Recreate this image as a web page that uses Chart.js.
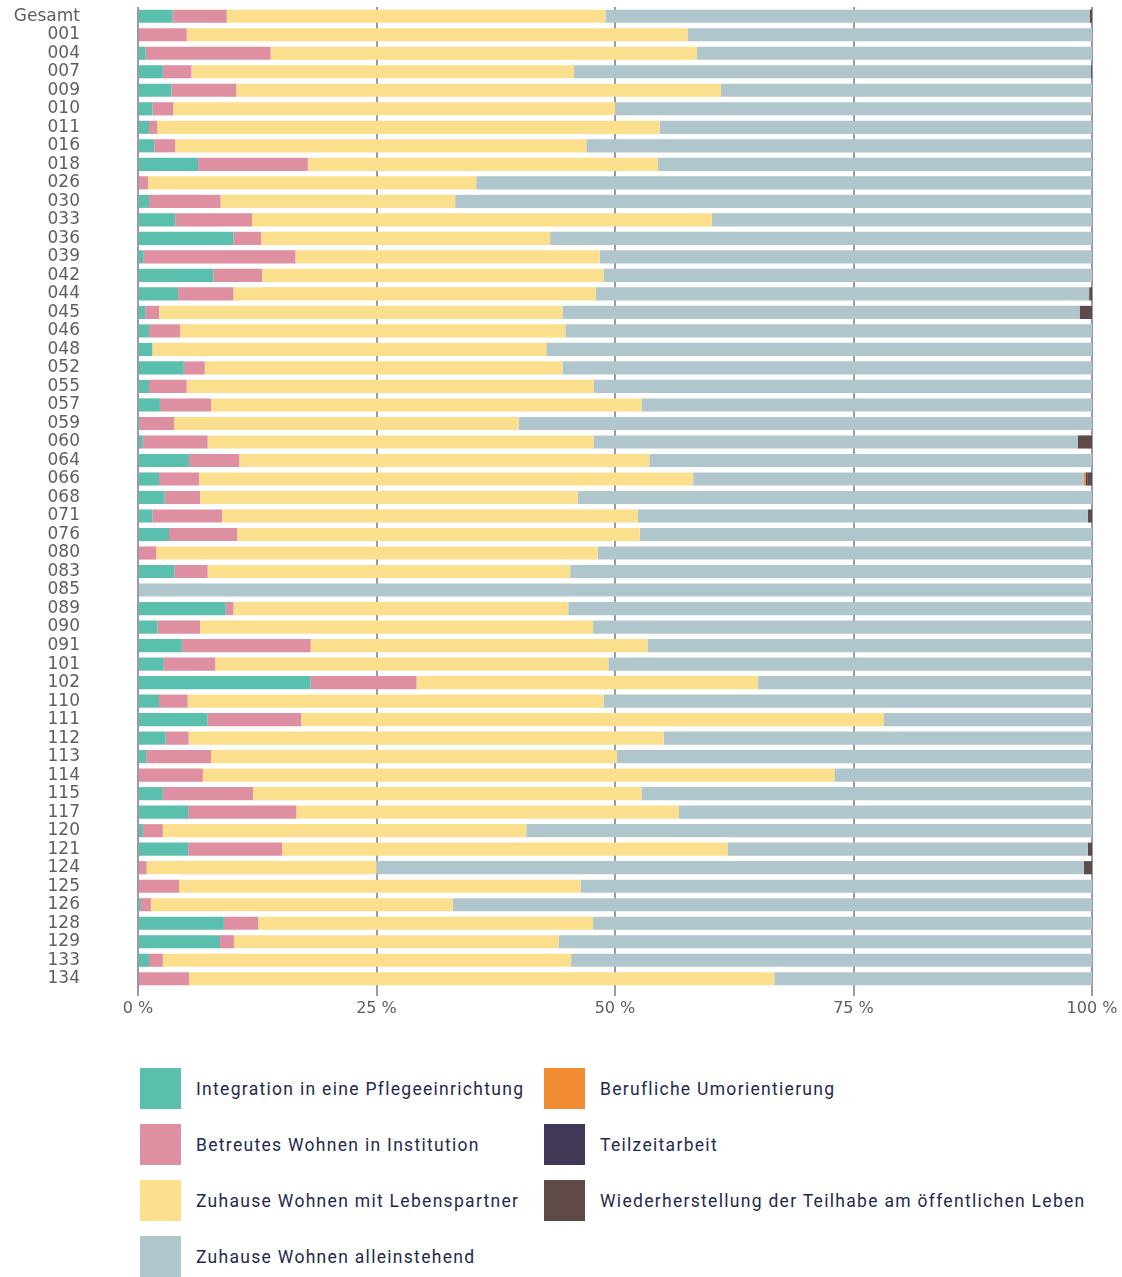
<!DOCTYPE html>
<html>
<head>
<meta charset="utf-8">
<script src="https://cdn.jsdelivr.net/npm/chart.js@4.4.0/dist/chart.umd.min.js"></script>
<style>
  html, body { margin: 0; padding: 0; background: #ffffff; }
  body { width: 1122px; height: 1277px; position: relative; overflow: hidden; }
  #wrap { position: absolute; left: 0; top: 0; width: 1122px; height: 1030px; }
  .lg { position: absolute; display: flex; align-items: center; font-family: Roboto, "Noto Sans", sans-serif; font-size: 17.5px; letter-spacing: 1.3px; color: #1e2a4d; white-space: nowrap; }
  .lg span.sw { width: 41px; height: 41px; display: inline-block; margin-right: 15px; }
</style>
</head>
<body>
<div id="wrap"><canvas id="c"></canvas></div>
<div id="legend"></div>
<script>
const categories = ['Gesamt','001','004','007','009','010','011','016','018','026','030','033','036','039','042','044','045','046','048','052','055','057','059','060','064','066','068','071','076','080','083','085','089','090','091','101','102','110','111','112','113','114','115','117','120','121','124','125','126','128','129','133','134'];

const seriesNames = ['Integration in eine Pflegeeinrichtung','Betreutes Wohnen in Institution','Zuhause Wohnen mit Lebenspartner','Zuhause Wohnen alleinstehend','Berufliche Umorientierung','Teilzeitarbeit','Wiederherstellung der Teilhabe am öffentlichen Leben'];

const pflege = [3.6,0,0.8,2.6,3.5,1.5,1.15,1.7,6.3,0,1.15,3.9,10.0,0.6,7.9,4.2,0.75,1.15,1.5,4.8,1.15,2.3,0.2,0.5,5.35,2.2,2.8,1.5,3.25,0,3.8,0,9.2,2.05,4.6,2.7,18.1,2.2,7.3,2.9,0.85,0,2.6,5.25,0.5,5.25,0,0,0.3,9.0,8.6,1.15,0];
const betreut = [5.7,5.1,13.1,3.0,6.8,2.2,0.85,2.2,11.5,1.05,7.5,8.05,2.9,15.9,5.1,5.8,1.45,3.25,0,2.2,3.95,5.35,3.6,6.8,5.25,4.2,3.7,7.3,7.15,1.9,3.5,0,0.8,4.45,13.5,5.4,11.1,3.0,9.8,2.4,6.8,6.8,9.45,11.35,2.1,9.85,0.9,4.3,1.05,3.6,1.45,1.45,5.35];
const partner = [39.7,52.5,44.7,40.1,50.8,46.3,52.7,43.1,36.7,34.4,24.6,48.2,30.3,31.9,35.8,38.0,42.3,40.4,41.3,37.5,42.7,45.15,36.1,40.5,43.0,51.8,39.6,43.6,42.2,46.3,38.0,0,35.1,41.2,35.3,41.2,35.8,43.6,61.1,49.8,42.55,66.2,40.75,40.1,38.1,46.7,24.1,42.1,31.65,35.1,34.05,42.8,61.35];
const allein = [50.75,42.4,41.4,54.2,38.9,50.0,45.3,53.0,45.5,64.55,66.75,39.85,56.8,51.6,51.2,51.7,54.2,55.2,57.2,55.5,52.2,47.2,60.1,50.7,46.4,40.95,53.9,47.15,47.4,51.8,54.7,100,54.9,52.3,46.6,50.7,35.0,51.2,21.8,44.9,49.8,27.0,47.2,43.3,59.3,37.75,74.15,53.6,67.0,52.3,55.9,54.6,33.3];
const beruf = [0,0,0,0,0,0,0,0,0,0,0,0,0,0,0,0,0,0,0,0,0,0,0,0,0,0.2,0,0,0,0,0,0,0,0,0,0,0,0,0,0,0,0,0,0,0,0,0,0,0,0,0,0,0];
const teilzeit = [0,0,0,0,0,0,0,0,0,0,0,0,0,0,0,0,0,0,0,0,0,0,0,0,0,0.2,0,0,0,0,0,0,0,0,0,0,0,0,0,0,0,0,0,0,0,0,0,0,0,0,0,0,0];
const teilhabe = [0.25,0,0,0.1,0,0,0,0,0,0,0,0,0,0,0,0.3,1.3,0,0,0,0,0,0,1.5,0,0.45,0,0.45,0,0,0,0,0,0,0,0,0,0,0,0,0,0,0,0,0,0.45,0.85,0,0,0,0,0,0];

const xTickLabels = ['0 %','25 %','50 %','75 %','100 %'];

const colors = ['#5bbfae','#de8fa2','#fbdf8c','#afc6cc','#f28c33','#413857','#5f4949'];
const seriesValues = [pflege, betreut, partner, allein, beruf, teilzeit, teilhabe];

const datasets = seriesNames.map((name, i) => ({
  label: name,
  data: seriesValues[i],
  backgroundColor: colors[i],
  borderWidth: 0,
  barPercentage: 0.71,
  categoryPercentage: 1.0
}));

new Chart(document.getElementById('c'), {
  type: 'bar',
  data: { labels: categories, datasets },
  options: {
    indexAxis: 'y',
    responsive: true,
    maintainAspectRatio: false,
    animation: false,
    layout: { padding: { top: 7, right: 30, left: 0, bottom: 0 } },
    plugins: { legend: { display: false }, tooltip: { enabled: false } },
    scales: {
      x: {
        stacked: true,
        min: 0,
        max: 100,
        ticks: {
          stepSize: 25,
          padding: 3,
          color: '#5e5e5e',
          font: { family: '"DejaVu Sans", sans-serif', size: 16 },
          callback: (v, i) => xTickLabels[i]
        },
        grid: { color: '#9d97ae', lineWidth: 2, drawTicks: true, tickLength: 8 },
        border: { display: false },
        afterFit: (s) => { s.height = 42; }
      },
      y: {
        stacked: true,
        ticks: {
          padding: 50,
          color: '#5e5e5e',
          autoSkip: false,
          font: { family: '"DejaVu Sans", sans-serif', size: 17 }
        },
        grid: { display: false },
        border: { display: false },
        afterFit: (s) => { s.width = 138; s.paddingTop = 0; s.paddingBottom = 0; }
      }
    }
  }
});

// HTML legend in two columns (column-major order as in reference)
const legendPos = [
  [140, 1068], [140, 1124], [140, 1180], [140, 1236],
  [544, 1068], [544, 1124], [544, 1180]
];
const lg = document.getElementById('legend');
seriesNames.forEach((name, k) => {
  const d = document.createElement('div');
  d.className = 'lg';
  d.style.left = legendPos[k][0] + 'px';
  d.style.top = legendPos[k][1] + 'px';
  d.innerHTML = '<span class="sw" style="background:' + colors[k] + '"></span><span>' + name + '</span>';
  lg.appendChild(d);
});
</script>
</body>
</html>
